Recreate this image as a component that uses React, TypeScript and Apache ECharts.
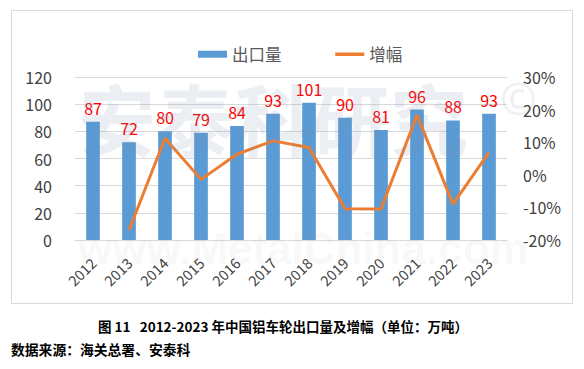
import React, { useEffect, useRef } from "react";
import * as echarts from "echarts";

const years = ["2012", "2013", "2014", "2015", "2016", "2017", "2018", "2019", "2020", "2021", "2022", "2023"];
const exportVolume = [87, 72, 80, 79, 84, 93, 101, 90, 81, 96, 88, 93];
const growthPct = [null, -17, 11.2, -1.4, 6.3, 10.4, 8.4, -10.4, -10.5, 18.3, -9, 6.9];
const leftTicks = { min: 0, max: 120, interval: 20 };
const rightTicks = { min: -20, max: 30, interval: 10 };

const FONT = "'Noto Sans CJK SC', 'Noto Sans', sans-serif";

export default function App() {
  const ref = useRef<HTMLDivElement>(null);
  useEffect(() => {
    if (!ref.current) return;
    const chart = echarts.init(ref.current, undefined, { renderer: "svg" });
    chart.setOption({
      animation: false,
      backgroundColor: "#ffffff",
      textStyle: { fontFamily: FONT },
      grid: { left: 75, right: 77, top: 77, bottom: 129, containLabel: false },
      legend: {
        left: 193,
        top: 41,
        itemWidth: 29,
        itemHeight: 7,
        itemGap: 52,
        textStyle: { fontSize: 16.5, color: "#595959", fontFamily: FONT },
        data: [
          { name: "出口量", icon: "rect" },
          {
            name: "增幅",
            itemStyle: { color: "rgba(0,0,0,0)", borderColor: "rgba(0,0,0,0)", borderWidth: 0 },
            lineStyle: { color: "#ED7D31", width: 3.5 },
          },
        ],
      },
      xAxis: {
        type: "category",
        data: years,
        axisTick: { show: false },
        axisLine: { show: true, lineStyle: { color: "#d9d9d9" } },
        axisLabel: { rotate: 45, fontSize: 14.5, color: "#404040", margin: 20, fontFamily: FONT },
      },
      yAxis: [
        {
          type: "value",
          min: leftTicks.min,
          max: leftTicks.max,
          interval: leftTicks.interval,
          axisLine: { show: false },
          axisTick: { show: false },
          axisLabel: { fontSize: 16, color: "#404040", margin: 23, fontFamily: FONT },
          splitLine: { lineStyle: { color: "#d9d9d9" } },
        },
        {
          type: "value",
          min: rightTicks.min,
          max: rightTicks.max,
          interval: rightTicks.interval,
          axisLine: { show: false },
          axisTick: { show: false },
          axisLabel: { fontSize: 16, color: "#404040", margin: 16, formatter: "{value}%", fontFamily: FONT },
          splitLine: { show: false },
        },
      ],
      series: [
        {
          name: "出口量",
          type: "bar",
          data: exportVolume,
          barWidth: "38%",
          itemStyle: { color: "#5B9BD5" },
          label: {
            show: true,
            position: "top",
            distance: 6,
            color: "#FF0000",
            fontSize: 16,
            fontFamily: FONT,
          },
          z: 2,
        },
        {
          name: "增幅",
          type: "line",
          yAxisIndex: 1,
          data: growthPct,
          symbol: "none",
          showSymbol: false,
          lineStyle: { color: "#ED7D31", width: 3 },
          itemStyle: { color: "#ED7D31" },
          z: 3,
        },
      ],
      graphic: [
        {
          type: "rect",
          shape: { x: 11.5, y: 10.5, width: 561, height: 293 },
          style: { fill: "none", stroke: "#d9d9d9", lineWidth: 1 },
          z: -10,
          silent: true,
        },
        {
          type: "text",
          x: 78,
          y: 78,
          style: {
            text: "安泰科研究",
            font: "bold 78px 'Noto Sans CJK SC'",
            fill: "rgba(120,140,165,0.15)",
          },
          z: 10,
          silent: true,
        },
        {
          type: "text",
          x: 500,
          y: 76,
          style: {
            text: "©",
            font: "44px 'Noto Sans'",
            fill: "rgba(120,140,165,0.15)",
          },
          z: 10,
          silent: true,
        },
        {
          type: "text",
          x: 78,
          y: 226,
          style: {
            text: "www.MetalChina.com",
            font: "bold 44px 'Liberation Sans'",
            fill: "rgba(150,150,150,0.08)",
          },
          z: 10,
          silent: true,
        },
        {
          type: "text",
          x: 283,
          y: 326,
          style: {
            text: "图 11   2012-2023 年中国铝车轮出口量及增幅（单位：万吨）",
            font: "bold 13.5px 'Noto Sans CJK SC'",
            fill: "#000000",
            textAlign: "center",
            textVerticalAlign: "middle",
          },
        },
        {
          type: "text",
          x: 11,
          y: 349,
          style: {
            text: "数据来源：海关总署、安泰科",
            font: "bold 13.8px 'Noto Sans CJK SC'",
            fill: "#000000",
            textAlign: "left",
            textVerticalAlign: "middle",
          },
        },
      ],
    });
    return () => chart.dispose();
  }, []);
  return (
    <div
      ref={ref}
      style={{ position: "fixed", left: 0, top: 0, width: 584, height: 369, background: "#fff" }}
    />
  );
}
